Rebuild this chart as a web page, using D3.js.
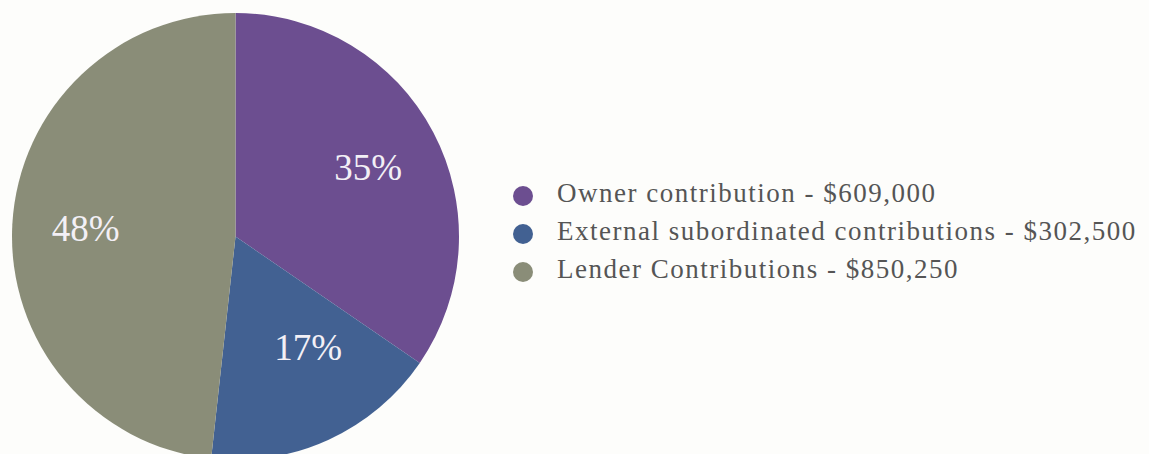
<!DOCTYPE html>
<html>
<head>
<meta charset="utf-8">
<script src="https://cdn.jsdelivr.net/npm/d3@7"></script>
<style>
  html, body { margin: 0; padding: 0; background: #fdfdfb; }
  svg { display: block; }
</style>
</head>
<body>
<svg id="chart" width="1149" height="454"></svg>
<script>
// Funding sources and their dollar amounts
const categories = ["Owner contribution", "External subordinated contributions", "Lender Contributions"];
const amounts = [609000, 302500, 850250];
const sliceColors = ["#6c4e90", "#426192", "#8a8d78"];

const width = 1149, height = 454;
const cx = 235.5, cy = 236.5, radius = 223.5;

const svg = d3.select("#chart");
const total = d3.sum(amounts);
const data = categories.map((c, i) => ({ name: c, value: amounts[i], color: sliceColors[i] }));

const pie = d3.pie().value(d => d.value).sort(null);
const arc = d3.arc().innerRadius(0).outerRadius(radius);
const labelArc = d3.arc().innerRadius(150).outerRadius(150);

const g = svg.append("g").attr("transform", `translate(${cx},${cy})`);
const arcs = pie(data);

g.selectAll("path.slice")
  .data(arcs)
  .join("path")
  .attr("class", "slice")
  .attr("d", arc)
  .attr("fill", d => d.data.color);

// small nudges so the narrow slice label sits inside its wedge
const labelNudge = [[0, 0], [10, -26], [0, 0]];

g.selectAll("text.pct")
  .data(arcs)
  .join("text")
  .attr("class", "pct")
  .attr("transform", (d, i) => {
    const [x, y] = labelArc.centroid(d);
    return `translate(${x + labelNudge[i][0]},${y + labelNudge[i][1]})`;
  })
  .attr("text-anchor", "middle")
  .attr("dy", "0.35em")
  .attr("fill", "#f3f0f6")
  .style("font-family", "'Liberation Serif', serif")
  .style("font-size", "37px")
  .text(d => Math.round(d.data.value / total * 100) + "%");

// Legend
const fmt = d3.format("$,");
const legend = svg.append("g").attr("transform", "translate(523,196)");
const rowH = 38;
const rows = legend.selectAll("g.row")
  .data(data)
  .join("g")
  .attr("class", "row")
  .attr("transform", (d, i) => `translate(0,${i * rowH})`);

rows.append("circle")
  .attr("r", 10)
  .attr("fill", d => d.color);

rows.append("text")
  .attr("x", 34)
  .attr("y", 6)
  .attr("fill", "#555555")
  .style("font-family", "'Liberation Serif', serif")
  .style("font-size", "27px")
  .style("letter-spacing", "1.5px")
  .text(d => `${d.name} - ${fmt(d.value)}`);
</script>
</body>
</html>
